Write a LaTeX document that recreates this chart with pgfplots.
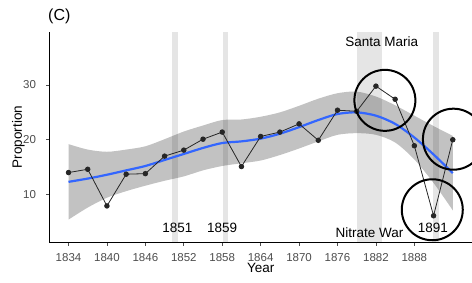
\documentclass[border=0pt]{standalone}
\usepackage{pgfplots}
\pgfplotsset{compat=1.18}
\usepgfplotslibrary{fillbetween}
\usepackage{fontspec}
\setmainfont{Liberation Sans}
\definecolor{smoothblue}{HTML}{3366FF}
\definecolor{tickgray}{HTML}{4D4D4D}
\definecolor{ptgray}{HTML}{262626}
\begin{document}
\begin{tikzpicture}
\begin{axis}[
  scale only axis,
  width=422.7pt, height=210.6pt,
  xmin=1831, xmax=1897,
  ymin=1.25, ymax=39.75,
  axis x line*=bottom, axis y line*=left,
  axis line style={black, line width=0.8pt, -},
  xtick={1834,1840,...,1888},
  ytick={10,20,30},
  tick align=outside,
  major tick length=3.3pt,
  tick style={tickgray, line width=0.7pt},
  /pgf/number format/assume math mode=true,
  /pgf/number format/1000 sep={},
  tick label style={font=\fontsize{11.5}{12}\selectfont, text=tickgray},
  xticklabel style={anchor=center, yshift=-11.7pt},
  yticklabel style={anchor=east, xshift=-6.5pt},
  xlabel={Year}, ylabel={Proportion},
  label style={font=\fontsize{13.5}{14}\selectfont},
  xlabel style={at={(axis description cs:0.5,-0.1235)}, anchor=center},
  ylabel style={at={(axis description cs:-0.0733,0.5)}, anchor=center},
]
% vertical highlight bands
\addplot[fill=black, fill opacity=0.1, draw=none] coordinates {(1850.2,1.25) (1851.1,1.25) (1851.1,39.75) (1850.2,39.75)} -- cycle;
\addplot[fill=black, fill opacity=0.1, draw=none] coordinates {(1858.05,1.25) (1858.95,1.25) (1858.95,39.75) (1858.05,39.75)} -- cycle;
\addplot[fill=black, fill opacity=0.1, draw=none] coordinates {(1879,1.25) (1883,1.25) (1883,39.75) (1879,39.75)} -- cycle;
\addplot[fill=black, fill opacity=0.1, draw=none] coordinates {(1890.9,1.25) (1891.85,1.25) (1891.85,39.75) (1890.9,39.75)} -- cycle;
% confidence ribbon
\addplot[name path=U, draw=none, smooth] coordinates {
(1834,19.2) (1837,18.2) (1840,17.8) (1843,18.2) (1846,18.8) (1849,20.1) (1852,21.5)
(1855,22.6) (1858,23.6) (1861,23.7) (1864,24.2) (1867,25.0) (1870,26.2) (1873,27.5)
(1876,28.5) (1879,28.8) (1882,27.9) (1885,26.3) (1888,24.4) (1891,22.5) (1894,20.7)};
\addplot[name path=L, draw=none, smooth] coordinates {
(1834,5.4) (1837,7.6) (1840,9.4) (1843,10.6) (1846,11.6) (1849,12.5) (1852,13.3)
(1855,14.4) (1858,15.2) (1861,15.7) (1864,16.2) (1867,17.2) (1870,18.4) (1873,19.7)
(1876,20.9) (1879,21.2) (1882,20.9) (1885,19.5) (1888,16.4) (1891,12.1) (1894,7.1)};
\addplot[fill=black!60, fill opacity=0.4, draw=none] fill between[of=U and L];
% smooth fit
\addplot[smoothblue, line width=2.2pt, smooth] coordinates {
(1834,12.3) (1837,12.9) (1840,13.6) (1843,14.4) (1846,15.2) (1849,16.3) (1852,17.4)
(1855,18.5) (1858,19.4) (1861,19.7) (1864,20.2) (1867,21.1) (1870,22.3) (1873,23.6)
(1876,24.7) (1879,25.0) (1882,24.4) (1885,22.9) (1888,20.4) (1891,17.3) (1894,13.9)};
% observed proportions
\addplot[ptgray, line width=0.8pt, mark=*, mark size=2.3pt, mark options={fill=ptgray}] coordinates {
(1834,14.0) (1837,14.6) (1840,7.9) (1843,13.7) (1846,13.8) (1849,17.0) (1852,18.1)
(1855,20.1) (1858,21.4) (1861,15.1) (1864,20.6) (1867,21.4) (1870,22.9) (1873,19.9)
(1876,25.4) (1879,25.2) (1882,29.8) (1885,27.4) (1888,18.9) (1891,6.1) (1894,20.0)};
% highlight circles
\addplot[only marks, mark=o, mark size=30.5pt, mark options={line width=2pt, draw=black}] coordinates {
(1883.4,27.2) (1894.1,20.1) (1890.8,7.2)};
% annotations
\node[font=\fontsize{13.5}{14}\selectfont, anchor=center] at (axis cs:1851.0,3.9) {1851};
\node[font=\fontsize{13.5}{14}\selectfont, anchor=center] at (axis cs:1858.0,3.9) {1859};
\node[font=\fontsize{13.5}{14}\selectfont, anchor=center] at (axis cs:1882.9,38.0) {Santa Maria};
\node[font=\fontsize{13.5}{14}\selectfont, anchor=center] at (axis cs:1881.0,2.95) {Nitrate War};
\node[font=\fontsize{13.5}{14}\selectfont, anchor=center] at (axis cs:1890.9,3.9) {1891};
\end{axis}
\node[font=\fontsize{16}{17}\selectfont, anchor=west, inner sep=0pt] at (-1.3pt,225.6pt) {(C)};
\pgfresetboundingbox
\path[use as bounding box] (-49.3pt,-39.7pt) rectangle (422.7pt,242.3pt);
\end{tikzpicture}
\end{document}
